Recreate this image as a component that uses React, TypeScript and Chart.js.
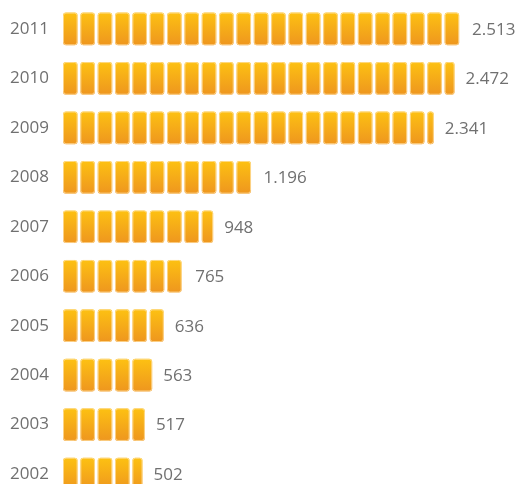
import React, { useEffect, useRef } from "react";
import { Chart, registerables } from "chart.js";

Chart.register(...registerables);

const years = ["2011", "2010", "2009", "2008", "2007", "2006", "2005", "2004", "2003", "2002"];
const values = [2513, 2472, 2341, 1196, 948, 765, 636, 563, 517, 502];
const SEGMENT_UNIT = 109.5;
const X_MAX = 2885;

const TEXT_COLOR = "#707070";
const FONT_FAMILY = "'Open Sans', 'Noto Sans', sans-serif";

function fmt(n: number): string {
  return String(n).replace(/\B(?=(\d{3})+(?!\d))/g, ".");
}

function roundRect(ctx: CanvasRenderingContext2D, x: number, y: number, w: number, h: number, r: number) {
  const rr = Math.max(0, Math.min(r, w / 2, h / 2));
  ctx.beginPath();
  ctx.moveTo(x + rr, y);
  ctx.lineTo(x + w - rr, y);
  ctx.arcTo(x + w, y, x + w, y + rr, rr);
  ctx.lineTo(x + w, y + h - rr);
  ctx.arcTo(x + w, y + h, x + w - rr, y + h, rr);
  ctx.lineTo(x + rr, y + h);
  ctx.arcTo(x, y + h, x, y + h - rr, rr);
  ctx.lineTo(x, y + rr);
  ctx.arcTo(x, y, x + rr, y, rr);
  ctx.closePath();
}

const pictorialPlugin = {
  id: "pictorial",
  afterDatasetsDraw(chart: any) {
    const ctx: CanvasRenderingContext2D = chart.ctx;
    const xScale = chart.scales.x;
    const period = xScale.getPixelForValue(SEGMENT_UNIT) - xScale.getPixelForValue(0);
    const segW = period * 0.84;
    const meta = chart.getDatasetMeta(0);
    const data = chart.data.datasets[0].data as number[];
    meta.data.forEach((bar: any, i: number) => {
      const p = bar.getProps(["x", "y", "base", "height"], true);
      const start = p.base;
      const end = p.x;
      const L = end - start;
      const top = p.y - p.height / 2;
      const h = p.height;
      const grad = ctx.createLinearGradient(0, top, 0, top + h);
      grad.addColorStop(0, "#fdc112");
      grad.addColorStop(1, "#ee961f");
      ctx.save();
      ctx.fillStyle = grad;
      ctx.strokeStyle = "rgba(255, 226, 170, 0.75)";
      ctx.lineWidth = 1;
      const n = Math.floor(L / period);
      const rem = L - n * period;
      const rects: Array<[number, number]> = [];
      if (rem < 4 && n > 0) {
        for (let k = 0; k < n - 1; k++) rects.push([start + k * period, segW]);
        const ls = start + (n - 1) * period;
        rects.push([ls, end - ls]);
      } else {
        for (let k = 0; k < n; k++) rects.push([start + k * period, segW]);
        rects.push([start + n * period, Math.min(segW, rem)]);
      }
      rects.forEach(([sx, w]) => {
        roundRect(ctx, sx, top, w, h, 3);
        ctx.fill();
        roundRect(ctx, sx + 0.5, top + 0.5, w - 1, h - 1, 2.5);
        ctx.stroke();
      });
      ctx.fillStyle = TEXT_COLOR;
      ctx.font = `17px ${FONT_FAMILY}`;
      ctx.textAlign = "left";
      ctx.textBaseline = "middle";
      ctx.fillText(fmt(data[i]), end + 11, p.y + 1);
      ctx.restore();
    });
  },
};

export default function App() {
  const canvasRef = useRef<HTMLCanvasElement | null>(null);

  useEffect(() => {
    if (!canvasRef.current) return;
    const chart = new Chart(canvasRef.current, {
      type: "bar",
      data: {
        labels: years,
        datasets: [
          {
            data: values,
            backgroundColor: "rgba(0,0,0,0)",
            borderWidth: 0,
            barPercentage: 0.66,
            categoryPercentage: 1,
          },
        ],
      },
      options: {
        indexAxis: "y",
        animation: false,
        responsive: true,
        maintainAspectRatio: false,
        layout: { padding: { top: 3, bottom: 3, left: 0, right: 0 } },
        plugins: {
          legend: { display: false },
          tooltip: { enabled: false },
        },
        scales: {
          x: {
            display: false,
            min: 0,
            max: X_MAX,
          },
          y: {
            grid: { display: false, drawTicks: false },
            border: { display: false },
            ticks: {
              color: TEXT_COLOR,
              font: { size: 17, family: FONT_FAMILY },
              padding: 14,
            },
            afterFit(scale: any) {
              scale.width = 63;
            },
          },
        },
      },
      plugins: [pictorialPlugin],
    });
    return () => chart.destroy();
  }, []);

  return (
    <div
      style={{
        position: "fixed",
        left: 0,
        top: 0,
        width: 520,
        height: 484,
        overflow: "hidden",
        background: "#ffffff",
      }}
    >
      <div style={{ position: "relative", top: -20, width: 520, height: 543 }}>
        <canvas ref={canvasRef} />
      </div>
    </div>
  );
}
